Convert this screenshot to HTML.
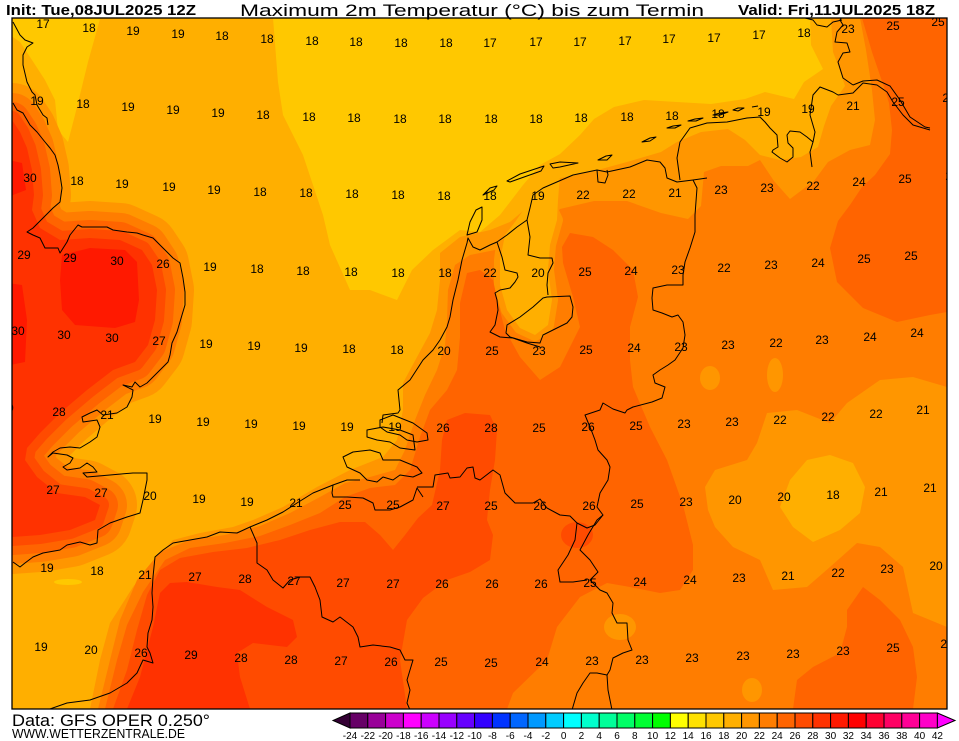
<!DOCTYPE html>
<html><head><meta charset="utf-8"><style>
html,body{margin:0;padding:0;background:#fff;}
svg{display:block;}
.l{font-family:"Liberation Sans",sans-serif;font-size:12px;fill:#000;text-anchor:middle;}
.c{fill:none;stroke:#000;stroke-width:1;stroke-linejoin:round;}
.cb{font-family:"Liberation Sans",sans-serif;font-size:10px;fill:#000;text-anchor:middle;}
</style></head><body>
<svg width="959" height="741" viewBox="0 0 959 741" xmlns="http://www.w3.org/2000/svg">
<rect x="0" y="0" width="959" height="741" fill="#fff"/>
<defs><clipPath id="m"><rect x="12" y="18" width="935" height="691"/></clipPath>
<path id="p28" d="M0,120 L12,120 L20,132 L27,148 L32,170 L34,195 L32,210 L40,228 L60,240 L90,238 L120,240 L142,250 L152,265 L157,290 L155,320 L148,345 L135,362 L113,370 L100,380 L87,390 L60,413 L40,433 L27,448 L25,460 L37,477 L57,493 L85,497 L100,505 L95,520 L70,530 L40,535 L12,537 L0,537 Z"/>
</defs>
<g clip-path="url(#m)">
<rect x="12" y="18" width="935" height="691" fill="#ffaf00"/>
<!-- yellow -->
<path fill="#ffc800" d="M10,19 L100,19 L88,62 L75,115 L68,142 L58,130 L55,100 L45,80 L32,60 L20,42 L10,35 Z"/>
<path fill="#ffc800" d="M273,18 L810,18 L811,45 L823,69 L804,82 L794,99 L765,92 L745,99 L711,104 L677,102 L644,100 L614,107 L594,119 L580,135 L560,154 L540,165 L523,185 L500,215 L480,232 L460,230 L433,250 L412,270 L397,300 L370,290 L350,290 L330,245 L323,215 L313,185 L303,155 L283,115 L278,82 Z"/>
<ellipse cx="68" cy="582" rx="14" ry="3" fill="#ffc800"/>
<!-- England bands -->
<use href="#p28" fill="#ff9600" stroke="#ff9600" stroke-width="74" stroke-linejoin="round"/>
<use href="#p28" fill="#ff7d00" stroke="#ff7d00" stroke-width="54" stroke-linejoin="round"/>
<use href="#p28" fill="#ff6400" stroke="#ff6400" stroke-width="36" stroke-linejoin="round"/>
<use href="#p28" fill="#ff4b00" stroke="#ff4b00" stroke-width="18" stroke-linejoin="round"/>
<use href="#p28" fill="#ff3200"/>
<path fill="#ff1900" d="M62,255 L90,248 L125,250 L137,262 L139,300 L135,322 L115,328 L75,325 L62,310 L60,280 Z"/>
<path fill="#ff1900" d="M0,282 L22,285 L27,320 L25,362 L0,367 Z"/>
<path fill="#ff1900" d="M0,158 L22,163 L26,190 L0,200 Z"/>
<!-- continental >=20 -->
<path fill="#ff9600" d="M90,709 L100,660 L110,623 L133,587 L157,557 L173,540 L200,533 L233,527 L253,520 L283,507 L317,487 L350,470 L383,457 L397,440 L403,410 L403,383 L417,357 L430,333 L437,310 L440,280 L440,253 L460,237 L490,230 L510,222 L530,205 L545,190 L560,178 L594,171 L627,162 L661,152 L677,142 L701,132 L728,129 L745,140 L760,155 L780,160 L801,157 L818,147 L824,126 L831,106 L845,86 L838,65 L833,52 L831,18 L947,18 L947,709 Z"/>
<!-- >=22 -->
<path fill="#ff7d00" d="M860,18 L947,18 L947,709 L98,709 L110,660 L120,620 L137,580 L160,552 L190,540 L225,535 L260,526 L290,513 L320,497 L345,483 L370,477 L395,470 L405,450 L415,420 L425,395 L437,370 L445,345 L447,320 L448,290 L455,265 L470,255 L495,250 L520,240 L545,225 L560,209 L594,201 L627,201 L661,213 L688,219 L701,206 L704,172 L721,166 L748,166 L760,160 L774,181 L790,199 L814,181 L828,162 L850,150 L870,145 L875,120 L872,90 L866,50 Z"/>
<!-- Flevoland light patch -->
<path fill="#ff9600" stroke="#ff9600" stroke-width="12" stroke-linejoin="round" d="M503,237 L520,225 L537,210 L550,205 L557,220 L550,245 L548,270 L552,300 L548,325 L535,335 L520,328 L507,310 L500,285 L500,260 Z"/>
<path fill="#ffaf00" d="M505,235 L515,222 L527,205 L535,190 L545,178 L560,175 L558,200 L557,220 L550,245 L548,270 L552,300 L548,325 L535,335 L520,328 L507,310 L500,285 L500,260 Z"/>
<!-- >=24 -->
<path fill="#ff6400" d="M105,709 L117,660 L127,625 L143,592 L165,560 L190,548 L225,543 L260,536 L290,525 L320,513 L345,497 L370,488 L395,485 L410,470 L420,437 L430,410 L447,390 L457,370 L460,337 L460,303 L467,273 L480,270 L493,280 L498,303 L505,330 L520,357 L540,380 L560,367 L580,327 L573,297 L563,263 L562,247 L570,233 L593,237 L613,250 L633,270 L638,297 L630,327 L630,360 L633,387 L650,427 L667,460 L683,505 L693,545 L693,570 L680,590 L660,593 L630,587 L607,583 L580,597 L557,627 L547,660 L513,693 L507,709 Z"/>
<path fill="#ff6400" d="M862,18 L947,18 L947,312 L930,315 L897,322 L863,308 L837,282 L830,248 L838,221 L850,205 L862,187 L875,175 L890,154 L892,130 L889,103 L885,90 L872,52 Z"/>
<path fill="#ff6400" d="M793,709 L797,680 L813,667 L840,653 L847,627 L847,610 L863,587 L880,600 L900,620 L913,647 L917,677 L913,709 Z"/>
<!-- east cool area -->
<path fill="#ff9600" d="M705,487 L715,470 L747,460 L757,443 L767,413 L797,410 L830,423 L847,403 L880,380 L913,377 L947,387 L947,627 L913,613 L903,567 L880,547 L857,543 L830,567 L807,587 L773,590 L760,560 L733,547 L715,527 L708,510 Z"/>
<path fill="#ffaf00" d="M780,507 L790,480 L807,460 L830,455 L853,463 L865,487 L860,513 L840,530 L813,542 L793,527 Z"/>
<ellipse cx="620" cy="627" rx="16" ry="13" fill="#ff9600"/>
<ellipse cx="752" cy="690" rx="10" ry="12" fill="#ff9600"/>
<ellipse cx="710" cy="378" rx="10" ry="12" fill="#ff9600"/>
<ellipse cx="775" cy="375" rx="8" ry="17" fill="#ff9600"/>
<!-- >=26 -->
<path fill="#ff4b00" d="M113,709 L127,670 L137,630 L147,595 L160,570 L180,558 L213,552 L247,548 L280,540 L310,530 L340,522 L365,522 L380,535 L393,550 L405,535 L418,518 L432,505 L440,470 L442,440 L447,420 L465,413 L490,415 L497,430 L495,460 L490,490 L487,520 L493,535 L490,560 L470,572 L447,580 L423,598 L407,620 L400,660 L407,709 Z"/>
<ellipse cx="577" cy="535" rx="16" ry="13" fill="#ff4b00"/>
<!-- >=28 -->
<path fill="#ff3200" d="M127,709 L140,677 L153,627 L160,593 L170,583 L187,582 L217,587 L240,590 L267,607 L293,620 L297,637 L287,647 L253,643 L237,653 L240,677 L250,709 Z"/>

<!-- coastlines and borders -->
<path class="c" d="M13,22 L20,35 L25,40 L33,43 L27,47 L23,55 L23,65 L27,82 L32,92 L35,95 L37,105 L40,110 L43,115 L47,118 L48,125"/>
<path class="c" d="M13,103 L17,110 L23,113 L30,125 L37,132 L45,142 L50,148 L55,155 L58,165 L60,175 L62,188 L60,202 L53,208 L43,218 L33,228 L27,232 L33,235 L40,238 L45,248 L58,248 L60,253 L67,242 L70,235 L78,225 L82,227 L107,227 L113,230 L127,232 L137,233 L143,235 L153,238 L160,245 L167,252 L173,258 L180,263 L183,278 L185,292 L185,305 L182,315 L177,332 L172,343 L170,355 L168,362 L163,367 L147,383 L140,387 L135,382 L132,387 L123,385 L133,390 L132,397 L127,407 L117,413 L103,415 L97,410 L90,413 L82,417 L83,422 L97,420 L100,427 L97,437 L90,442 L80,448 L70,447 L60,448 L53,452 L48,457 L53,453 L67,455 L73,458 L70,463 L63,467 L67,470 L80,468 L87,463 L93,467 L97,472 L83,473 L87,477 L110,475 L133,473 L147,473 L147,480 L143,500 L140,513 L127,517 L110,523 L98,530 L97,543 L90,545 L80,542 L67,545 L60,550 L43,553 L33,557 L25,563 L20,567 L13,562"/>
<path class="c" d="M47,710 L67,703 L90,700 L110,693 L127,683 L137,673 L143,660 L153,663 L150,653 L147,647 L148,633 L152,620 L153,607 L152,593 L153,577 L155,557 L163,550 L173,543 L190,540 L207,537 L220,532 L237,533 L250,527 L267,520 L283,512 L297,503 L313,493 L333,485 L347,480 L360,480"/>
<path class="c" d="M333,485 L332,493 L333,497 L347,497 L363,498 L373,503 L375,510 L390,510 L400,507 L413,500 L417,488 L423,497"/>
<path class="c" d="M417,487 L433,487 L435,475 L448,473 L450,478 L460,477 L467,468 L473,467 L475,478 L480,480 L493,470 L500,475 L505,493 L515,503 L533,503 L540,499 L547,508 L560,515 L570,516 L577,523 L587,528 L595,525 L603,515"/>
<path class="c" d="M343,457 L353,452 L370,450 L380,453 L383,460 L400,460 L417,467 L422,473 L413,477 L400,475 L393,480 L383,477 L377,482 L367,480 L360,473 L347,467 Z"/>
<path class="c" d="M367,430 L383,427 L400,430 L413,435 L415,450 L400,448 L390,442 L377,440 L367,437 Z"/>
<path class="c" d="M380,420 L393,415 L413,423 L427,433 L428,440 L417,442 L407,440 L400,435 L387,432 L380,427 Z"/>
<path class="c" d="M382,423 L383,415 L398,413 L400,410 L398,390 L410,380 L423,360 L433,350 L440,340 L447,327 L450,317 L453,300 L458,280 L462,260 L467,243 L468,238 L473,247 L480,250 L490,245 L497,242 L507,235 L517,227 L527,220 L530,208 L533,195 L543,188 L573,175 L597,170 L607,172 L630,167 L647,160 L660,162 L665,168 L667,178 L677,182 L693,180 L707,178"/>
<path class="c" d="M497,242 L502,257 L505,270 L517,273 L518,277 L515,282 L510,288 L500,290 L495,293 L497,300 L498,310 L495,325 L490,332 L500,337 L513,338 L527,343 L540,347"/>
<path class="c" d="M527,220 L530,237 L528,255 L540,258 L552,258 L553,263 L548,273 L547,285 L548,295"/>
<path class="c" d="M547,297 L570,296 L573,307 L572,317 L567,323 L553,330 L543,335 L540,343 L527,342 L510,337 L506,333 L507,325 L520,317 L533,307 L543,298 Z"/>
<path class="c" d="M680,180 L677,158 L680,142 L690,128 L707,123 L727,122 L747,118 L760,117 L765,122 L770,128 L777,135 L778,147 L773,150 L772,152 L780,158 L787,162 L793,157 L793,148 L788,143 L787,135 L790,131 L800,132 L807,137 L813,142 L815,132 L810,115 L813,95 L820,87 L833,92 L838,95 L853,93 L863,83 L877,85 L887,92 L893,102 L903,115 L913,125 L930,130"/>
<path class="c" d="M853,85 L863,81 L877,80 L890,86 L900,100 L910,117 L925,127 L930,128"/>
<path class="c" d="M853,85 L843,78 L838,62 L843,53 L850,52 L847,43 L835,42 L837,32 L843,25 L840,20 L842,17"/>
<path class="c" d="M805,18 L813,20 L817,25 L827,27 L833,22 L842,20"/>
<path class="c" d="M813,142 L810,152 L812,167"/>
<path class="c" d="M693,180 L697,188 L695,215 L695,232 L690,248 L685,262 L683,275 L683,285 L667,285 L653,288 L652,298 L653,310 L662,313 L672,317 L678,315 L683,322 L685,335 L683,348 L675,360 L668,365 L660,370 L653,375 L655,383 L665,387 L662,398 L652,402 L633,407 L627,410 L625,413 L613,409 L603,403 L600,410 L585,415 L592,432 L595,440 L598,450 L607,460 L610,467 L608,480 L600,493 L597,507 L603,515 L597,520 L588,535 L580,550 L590,560 L598,572 L590,580 L600,590 L607,593 L613,603 L612,613 L617,623 L627,623 L628,640 L632,650 L623,653 L613,658 L610,670 L607,675 L608,690 L612,710"/>
<path class="c" d="M577,523 L575,540 L568,555 L558,570 L560,582 L573,582 L587,580"/>
<path class="c" d="M607,675 L597,673 L590,673 L583,683 L577,693 L572,710"/>
<path class="c" d="M250,527 L257,543 L257,563 L267,570 L273,580 L283,588 L290,580 L300,577 L310,577 L315,587 L320,600 L322,617 L333,622 L340,617 L353,627 L358,637 L360,647 L373,645 L390,647 L400,650 L405,660 L413,660 L410,670 L407,680 L410,690 L407,703 L410,710"/>
<path class="c" d="M467,235 L470,222 L476,210 L482,207 L482,220 L477,232 Z"/>
<path class="c" d="M483,195 L490,188 L497,186 L494,190 Z"/>
<path class="c" d="M507,181 L520,174 L544,166 L541,171 L510,182 Z"/>
<path class="c" d="M550,164 L560,162 L578,163 L560,167 L553,168 Z"/>
<path class="c" d="M598,160 L606,156 L612,155 L607,160 Z"/>
<path class="c" d="M642,142 L650,138 L656,137 L650,141 Z"/>
<path class="c" d="M667,128 L673,126 L681,125 L675,128 Z"/>
<path class="c" d="M688,121 L695,119 L703,118 L696,121 Z"/>
<path class="c" d="M713,115 L720,113 L728,112 L720,115 Z"/>
<path class="c" d="M733,110 L738,108 L744,108 L738,111 Z"/>
<path class="c" d="M752,107 L758,106"/>
<path class="c" d="M597,170 L598,182 L605,183 L608,175 L607,170"/>

<!-- value labels -->
<g class="l">
<text x="43" y="28">17</text><text x="89" y="32">18</text><text x="133" y="35">19</text><text x="178" y="38">19</text><text x="222" y="40">18</text><text x="267" y="43">18</text><text x="312" y="45">18</text><text x="356" y="46">18</text><text x="401" y="47">18</text><text x="446" y="47">18</text><text x="490" y="47">17</text><text x="536" y="46">17</text><text x="580" y="46">17</text><text x="625" y="45">17</text><text x="669" y="43">17</text><text x="714" y="42">17</text><text x="759" y="39">17</text><text x="804" y="37">18</text><text x="848" y="33">23</text><text x="893" y="30">25</text><text x="938" y="26">25</text>
<text x="37" y="105">19</text><text x="83" y="108">18</text><text x="128" y="111">19</text><text x="173" y="114">19</text><text x="218" y="117">19</text><text x="263" y="119">18</text><text x="309" y="121">18</text><text x="354" y="122">18</text><text x="400" y="123">18</text><text x="445" y="123">18</text><text x="491" y="123">18</text><text x="536" y="123">18</text><text x="581" y="122">18</text><text x="627" y="121">18</text><text x="672" y="120">18</text><text x="718" y="118">18</text><text x="764" y="116">19</text><text x="808" y="113">19</text><text x="853" y="110">21</text><text x="898" y="106">25</text><text x="949" y="102">25</text>
<text x="30" y="182">30</text><text x="77" y="185">18</text><text x="122" y="188">19</text><text x="169" y="191">19</text><text x="214" y="194">19</text><text x="260" y="196">18</text><text x="306" y="197">18</text><text x="352" y="198">18</text><text x="398" y="199">18</text><text x="444" y="200">18</text><text x="490" y="200">18</text><text x="538" y="200">19</text><text x="583" y="199">22</text><text x="629" y="198">22</text><text x="675" y="197">21</text><text x="721" y="194">23</text><text x="767" y="192">23</text><text x="813" y="190">22</text><text x="859" y="186">24</text><text x="905" y="183">25</text><text x="952" y="180">25</text>
<text x="24" y="259">29</text><text x="70" y="262">29</text><text x="117" y="265">30</text><text x="163" y="268">26</text><text x="210" y="271">19</text><text x="257" y="273">18</text><text x="303" y="275">18</text><text x="351" y="276">18</text><text x="398" y="277">18</text><text x="445" y="277">18</text><text x="490" y="277">22</text><text x="538" y="277">20</text><text x="585" y="276">25</text><text x="631" y="275">24</text><text x="678" y="274">23</text><text x="724" y="272">22</text><text x="771" y="269">23</text><text x="818" y="267">24</text><text x="864" y="263">25</text><text x="911" y="260">25</text>
<text x="18" y="335">30</text><text x="64" y="339">30</text><text x="112" y="342">30</text><text x="159" y="345">27</text><text x="206" y="348">19</text><text x="254" y="350">19</text><text x="301" y="352">19</text><text x="349" y="353">18</text><text x="397" y="354">18</text><text x="444" y="355">20</text><text x="492" y="355">25</text><text x="539" y="355">23</text><text x="586" y="354">25</text><text x="634" y="352">24</text><text x="681" y="351">23</text><text x="728" y="349">23</text><text x="776" y="347">22</text><text x="822" y="344">23</text><text x="870" y="341">24</text><text x="917" y="337">24</text>
<text x="7" y="412">30</text><text x="59" y="416">28</text><text x="107" y="419">21</text><text x="155" y="423">19</text><text x="203" y="426">19</text><text x="251" y="428">19</text><text x="299" y="430">19</text><text x="347" y="431">19</text><text x="395" y="431">19</text><text x="443" y="432">26</text><text x="491" y="432">28</text><text x="539" y="432">25</text><text x="588" y="431">26</text><text x="636" y="430">25</text><text x="684" y="428">23</text><text x="732" y="426">23</text><text x="780" y="424">22</text><text x="828" y="421">22</text><text x="876" y="418">22</text><text x="923" y="414">21</text>
<text x="53" y="494">27</text><text x="101" y="497">27</text><text x="150" y="500">20</text><text x="199" y="503">19</text><text x="247" y="506">19</text><text x="296" y="507">21</text><text x="345" y="509">25</text><text x="393" y="509">25</text><text x="443" y="510">27</text><text x="491" y="510">25</text><text x="540" y="510">26</text><text x="589" y="510">26</text><text x="637" y="508">25</text><text x="686" y="506">23</text><text x="735" y="504">20</text><text x="784" y="501">20</text><text x="833" y="499">18</text><text x="881" y="496">21</text><text x="930" y="492">21</text>
<text x="47" y="572">19</text><text x="97" y="575">18</text><text x="145" y="579">21</text><text x="195" y="581">27</text><text x="245" y="583">28</text><text x="294" y="585">27</text><text x="343" y="587">27</text><text x="393" y="588">27</text><text x="442" y="588">26</text><text x="492" y="588">26</text><text x="541" y="588">26</text><text x="590" y="587">25</text><text x="640" y="586">24</text><text x="690" y="584">24</text><text x="739" y="582">23</text><text x="788" y="580">21</text><text x="838" y="577">22</text><text x="887" y="573">23</text><text x="936" y="570">20</text>
<text x="41" y="651">19</text><text x="91" y="654">20</text><text x="141" y="657">26</text><text x="191" y="659">29</text><text x="241" y="662">28</text><text x="291" y="664">28</text><text x="341" y="665">27</text><text x="391" y="666">26</text><text x="441" y="666">25</text><text x="491" y="667">25</text><text x="542" y="666">24</text><text x="592" y="665">23</text><text x="642" y="664">23</text><text x="692" y="662">23</text><text x="743" y="660">23</text><text x="793" y="658">23</text><text x="843" y="655">23</text><text x="893" y="652">25</text><text x="947" y="648">22</text>
</g>
</g>
<rect x="12" y="18" width="935" height="691" fill="none" stroke="#000" stroke-width="1.3"/>

<!-- header -->
<text x="6" y="15" font-family="Liberation Sans, sans-serif" font-weight="bold" font-size="15" textLength="190" lengthAdjust="spacingAndGlyphs">Init: Tue,08JUL2025 12Z</text>
<text x="240" y="16" font-family="Liberation Sans, sans-serif" font-size="17" textLength="464" lengthAdjust="spacingAndGlyphs">Maximum  2m  Temperatur  (°C)  bis  zum  Termin</text>
<text x="738" y="15" font-family="Liberation Sans, sans-serif" font-weight="bold" font-size="15" textLength="197" lengthAdjust="spacingAndGlyphs">Valid: Fri,11JUL2025 18Z</text>

<!-- footer -->
<text x="12" y="726" font-family="Liberation Sans, sans-serif" font-size="17" textLength="198" lengthAdjust="spacingAndGlyphs">Data:  GFS  OPER  0.250°</text>
<text x="12" y="738" font-family="Liberation Sans, sans-serif" font-size="12.5" textLength="173" lengthAdjust="spacingAndGlyphs">WWW.WETTERZENTRALE.DE</text>

<!-- colorbar -->
<g stroke="#000" stroke-width="1">
<polygon points="350,713 333,720.5 350,728" fill="#330033"/>
<rect x="350" y="713" width="17.8" height="15" fill="#660066"/>
<rect x="367.8" y="713" width="17.8" height="15" fill="#990099"/>
<rect x="385.6" y="713" width="17.8" height="15" fill="#cc00cc"/>
<rect x="403.4" y="713" width="17.8" height="15" fill="#ff00ff"/>
<rect x="421.2" y="713" width="17.8" height="15" fill="#cc00ff"/>
<rect x="439" y="713" width="17.8" height="15" fill="#9900ff"/>
<rect x="456.8" y="713" width="17.8" height="15" fill="#6600ff"/>
<rect x="474.6" y="713" width="17.8" height="15" fill="#3300ff"/>
<rect x="492.4" y="713" width="17.8" height="15" fill="#0033ff"/>
<rect x="510.2" y="713" width="17.8" height="15" fill="#0066ff"/>
<rect x="528" y="713" width="17.8" height="15" fill="#0099ff"/>
<rect x="545.8" y="713" width="17.8" height="15" fill="#00ccff"/>
<rect x="563.6" y="713" width="17.8" height="15" fill="#00ffff"/>
<rect x="581.4" y="713" width="17.8" height="15" fill="#00ffcc"/>
<rect x="599.2" y="713" width="17.8" height="15" fill="#00ff99"/>
<rect x="617" y="713" width="17.8" height="15" fill="#00ff66"/>
<rect x="634.8" y="713" width="17.8" height="15" fill="#00ff33"/>
<rect x="652.6" y="713" width="17.8" height="15" fill="#00ff00"/>
<rect x="670.4" y="713" width="17.8" height="15" fill="#ffff00"/>
<rect x="688.2" y="713" width="17.8" height="15" fill="#ffe100"/>
<rect x="706" y="713" width="17.8" height="15" fill="#ffc800"/>
<rect x="723.8" y="713" width="17.8" height="15" fill="#ffaf00"/>
<rect x="741.6" y="713" width="17.8" height="15" fill="#ff9600"/>
<rect x="759.4" y="713" width="17.8" height="15" fill="#ff7d00"/>
<rect x="777.2" y="713" width="17.8" height="15" fill="#ff6400"/>
<rect x="795" y="713" width="17.8" height="15" fill="#ff4b00"/>
<rect x="812.8" y="713" width="17.8" height="15" fill="#ff3200"/>
<rect x="830.6" y="713" width="17.8" height="15" fill="#ff1900"/>
<rect x="848.4" y="713" width="17.8" height="15" fill="#ff0000"/>
<rect x="866.2" y="713" width="17.8" height="15" fill="#ff0032"/>
<rect x="884" y="713" width="17.8" height="15" fill="#ff0064"/>
<rect x="901.8" y="713" width="17.8" height="15" fill="#ff0096"/>
<rect x="919.6" y="713" width="17.8" height="15" fill="#ff00c8"/>
<polygon points="937.4,713 955,720.5 937.4,728" fill="#ff00ff"/>
</g>
<g class="cb">
<text x="350" y="739">-24</text><text x="367.8" y="739">-22</text><text x="385.6" y="739">-20</text><text x="403.4" y="739">-18</text><text x="421.2" y="739">-16</text><text x="439" y="739">-14</text><text x="456.8" y="739">-12</text><text x="474.6" y="739">-10</text><text x="492.4" y="739">-8</text><text x="510.2" y="739">-6</text><text x="528" y="739">-4</text><text x="545.8" y="739">-2</text><text x="563.6" y="739">0</text><text x="581.4" y="739">2</text><text x="599.2" y="739">4</text><text x="617" y="739">6</text><text x="634.8" y="739">8</text><text x="652.6" y="739">10</text><text x="670.4" y="739">12</text><text x="688.2" y="739">14</text><text x="706" y="739">16</text><text x="723.8" y="739">18</text><text x="741.6" y="739">20</text><text x="759.4" y="739">22</text><text x="777.2" y="739">24</text><text x="795" y="739">26</text><text x="812.8" y="739">28</text><text x="830.6" y="739">30</text><text x="848.4" y="739">32</text><text x="866.2" y="739">34</text><text x="884" y="739">36</text><text x="901.8" y="739">38</text><text x="919.6" y="739">40</text><text x="937.4" y="739">42</text>
</g>
</svg>
</body></html>
